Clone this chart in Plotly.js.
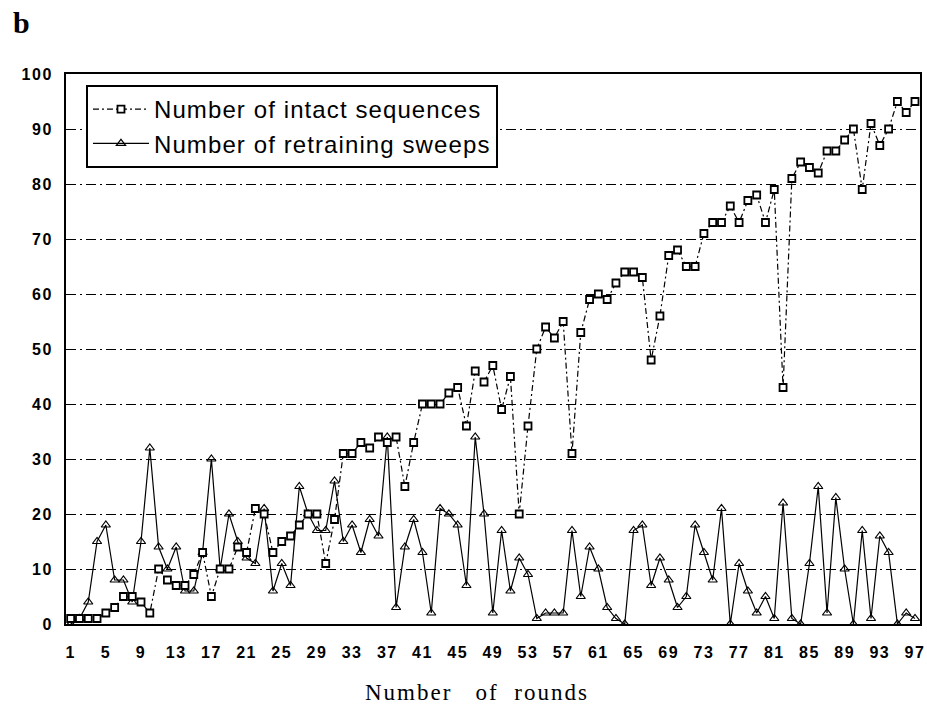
<!DOCTYPE html>
<html>
<head>
<meta charset="utf-8">
<script src="https://cdn.plot.ly/plotly-3.0.1.min.js"></script>
<style>
html, body { margin: 0; padding: 0; background: #fff; }
#chart { width: 927px; height: 711px; }
.xtick text, .ytick text { letter-spacing: 1.5px; }
.legendtext { letter-spacing: 1.1px; }
g.annotation[data-index="1"] text { letter-spacing: 2px; }
</style>
</head>
<body>
<div id="chart"></div>
<script>
// Rounds 1..97
const rounds = [];
for (let i = 1; i <= 97; i++) rounds.push(i);

const intactSequences = [
  1, 1, 1, 1, 2, 3, 5, 5, 4, 2,
  10, 8, 7, 7, 9, 13, 5, 10, 10, 14,
  13, 21, 20, 13, 15, 16, 18, 20, 20, 11,
  19, 31, 31, 33, 32, 34, 33, 34, 25, 33,
  40, 40, 40, 42, 43, 36, 46, 44, 47, 39,
  45, 20, 36, 50, 54, 52, 55, 31, 53, 59,
  60, 59, 62, 64, 64, 63, 48, 56, 67, 68,
  65, 65, 71, 73, 73, 76, 73, 77, 78, 73,
  79, 43, 81, 84, 83, 82, 86, 86, 88, 90,
  79, 91, 87, 90, 95, 93, 95
];

const retrainingSweeps = [
  0, 1, 4, 15, 18, 8, 8, 4, 15, 32,
  14, 10, 14, 6, 6, 13, 30, 10, 20, 15,
  12, 11, 21, 6, 11, 7, 25, 20, 17, 17,
  26, 15, 18, 13, 19, 16, 34, 3, 14, 19,
  13, 2, 21, 20, 18, 7, 34, 20, 2, 17,
  6, 12, 9, 1, 2, 2, 2, 17, 5, 14,
  10, 3, 1, 0, 17, 18, 7, 12, 8, 3,
  5, 18, 13, 8, 21, 0, 11, 6, 2, 5,
  1, 22, 1, 0, 11, 25, 2, 23, 10, 0,
  17, 1, 16, 13, 0, 2, 1
];

const xTickVals = [1, 5, 9, 13, 17, 21, 25, 29, 33, 37, 41, 45, 49, 53, 57, 61, 65, 69, 73, 77, 81, 85, 89, 93, 97];
const yTickVals = [0, 10, 20, 30, 40, 50, 60, 70, 80, 90, 100];

const seriesNames = ["Number of intact sequences", "Number of retraining sweeps"];

const traceSweeps = {
  x: rounds, y: retrainingSweeps, type: "scatter", mode: "lines+markers",
  name: seriesNames[1],
  line: { color: "#000", width: 1.2 },
  marker: { symbol: "triangle-up-open", size: 8, color: "#000", line: { width: 1.2, color: "#000" } },
  legendrank: 2
};
const traceIntact = {
  x: rounds, y: intactSequences, type: "scatter", mode: "lines+markers",
  name: seriesNames[0],
  line: { color: "#000", width: 1.2, dash: "6px,3px,2px,3px" },
  marker: { symbol: "square", size: 7, color: "#fff", line: { width: 1.8, color: "#000" } },
  legendrank: 1
};

const layout = {
  width: 927, height: 711,
  margin: { l: 66, r: 7, t: 74, b: 87 },
  paper_bgcolor: "#fff", plot_bgcolor: "#fff",
  showlegend: true,
  legend: {
    x: 0.0234, y: 0.98, xanchor: "left", yanchor: "top",
    bgcolor: "#fff", bordercolor: "#000", borderwidth: 2,
    font: { family: "Arial, 'Liberation Sans', sans-serif", size: 24, color: "#000" },
    itemwidth: 56, tracegroupgap: 0
  },
  xaxis: {
    range: [0.47, 97.57],
    tickmode: "array", tickvals: xTickVals, ticktext: xTickVals.map(String),
    ticks: "", showgrid: false, zeroline: false,
    showline: true, linecolor: "#000", linewidth: 2, mirror: true,
    tickfont: { family: "Arial, 'Liberation Sans', sans-serif", size: 16, color: "#000", weight: "bold" },
    ticklabelstandoff: 13
  },
  yaxis: {
    range: [0, 100],
    tickmode: "array", tickvals: yTickVals, ticktext: yTickVals.map(String),
    ticks: "", showgrid: true, gridcolor: "#000", gridwidth: 1, griddash: "10px,4px,2px,4px",
    zeroline: false,
    showline: true, linecolor: "#000", linewidth: 2, mirror: true,
    tickfont: { family: "Arial, 'Liberation Sans', sans-serif", size: 16, color: "#000", weight: "bold" },
    ticklabelstandoff: 8
  },
  annotations: [
    {
      text: "b", xref: "paper", yref: "paper", x: -0.0645, y: 1.0936,
      xanchor: "left", yanchor: "middle", showarrow: false,
      font: { family: "'Times New Roman', 'Liberation Serif', serif", size: 30, color: "#000", weight: "bold" }
    },
    {
      text: "Number\u00a0\u00a0 of\u00a0\u00a0rounds", xref: "paper", yref: "paper",
      x: (477.5 - 66) / 854.6, y: (624 - 692) / 550,
      xanchor: "center", yanchor: "middle", showarrow: false,
      font: { family: "'Times New Roman', 'Liberation Serif', serif", size: 23, color: "#000" }
    }
  ]
};

Plotly.newPlot("chart", [traceSweeps, traceIntact], layout, { displayModeBar: false, staticPlot: true });
</script>
</body>
</html>
